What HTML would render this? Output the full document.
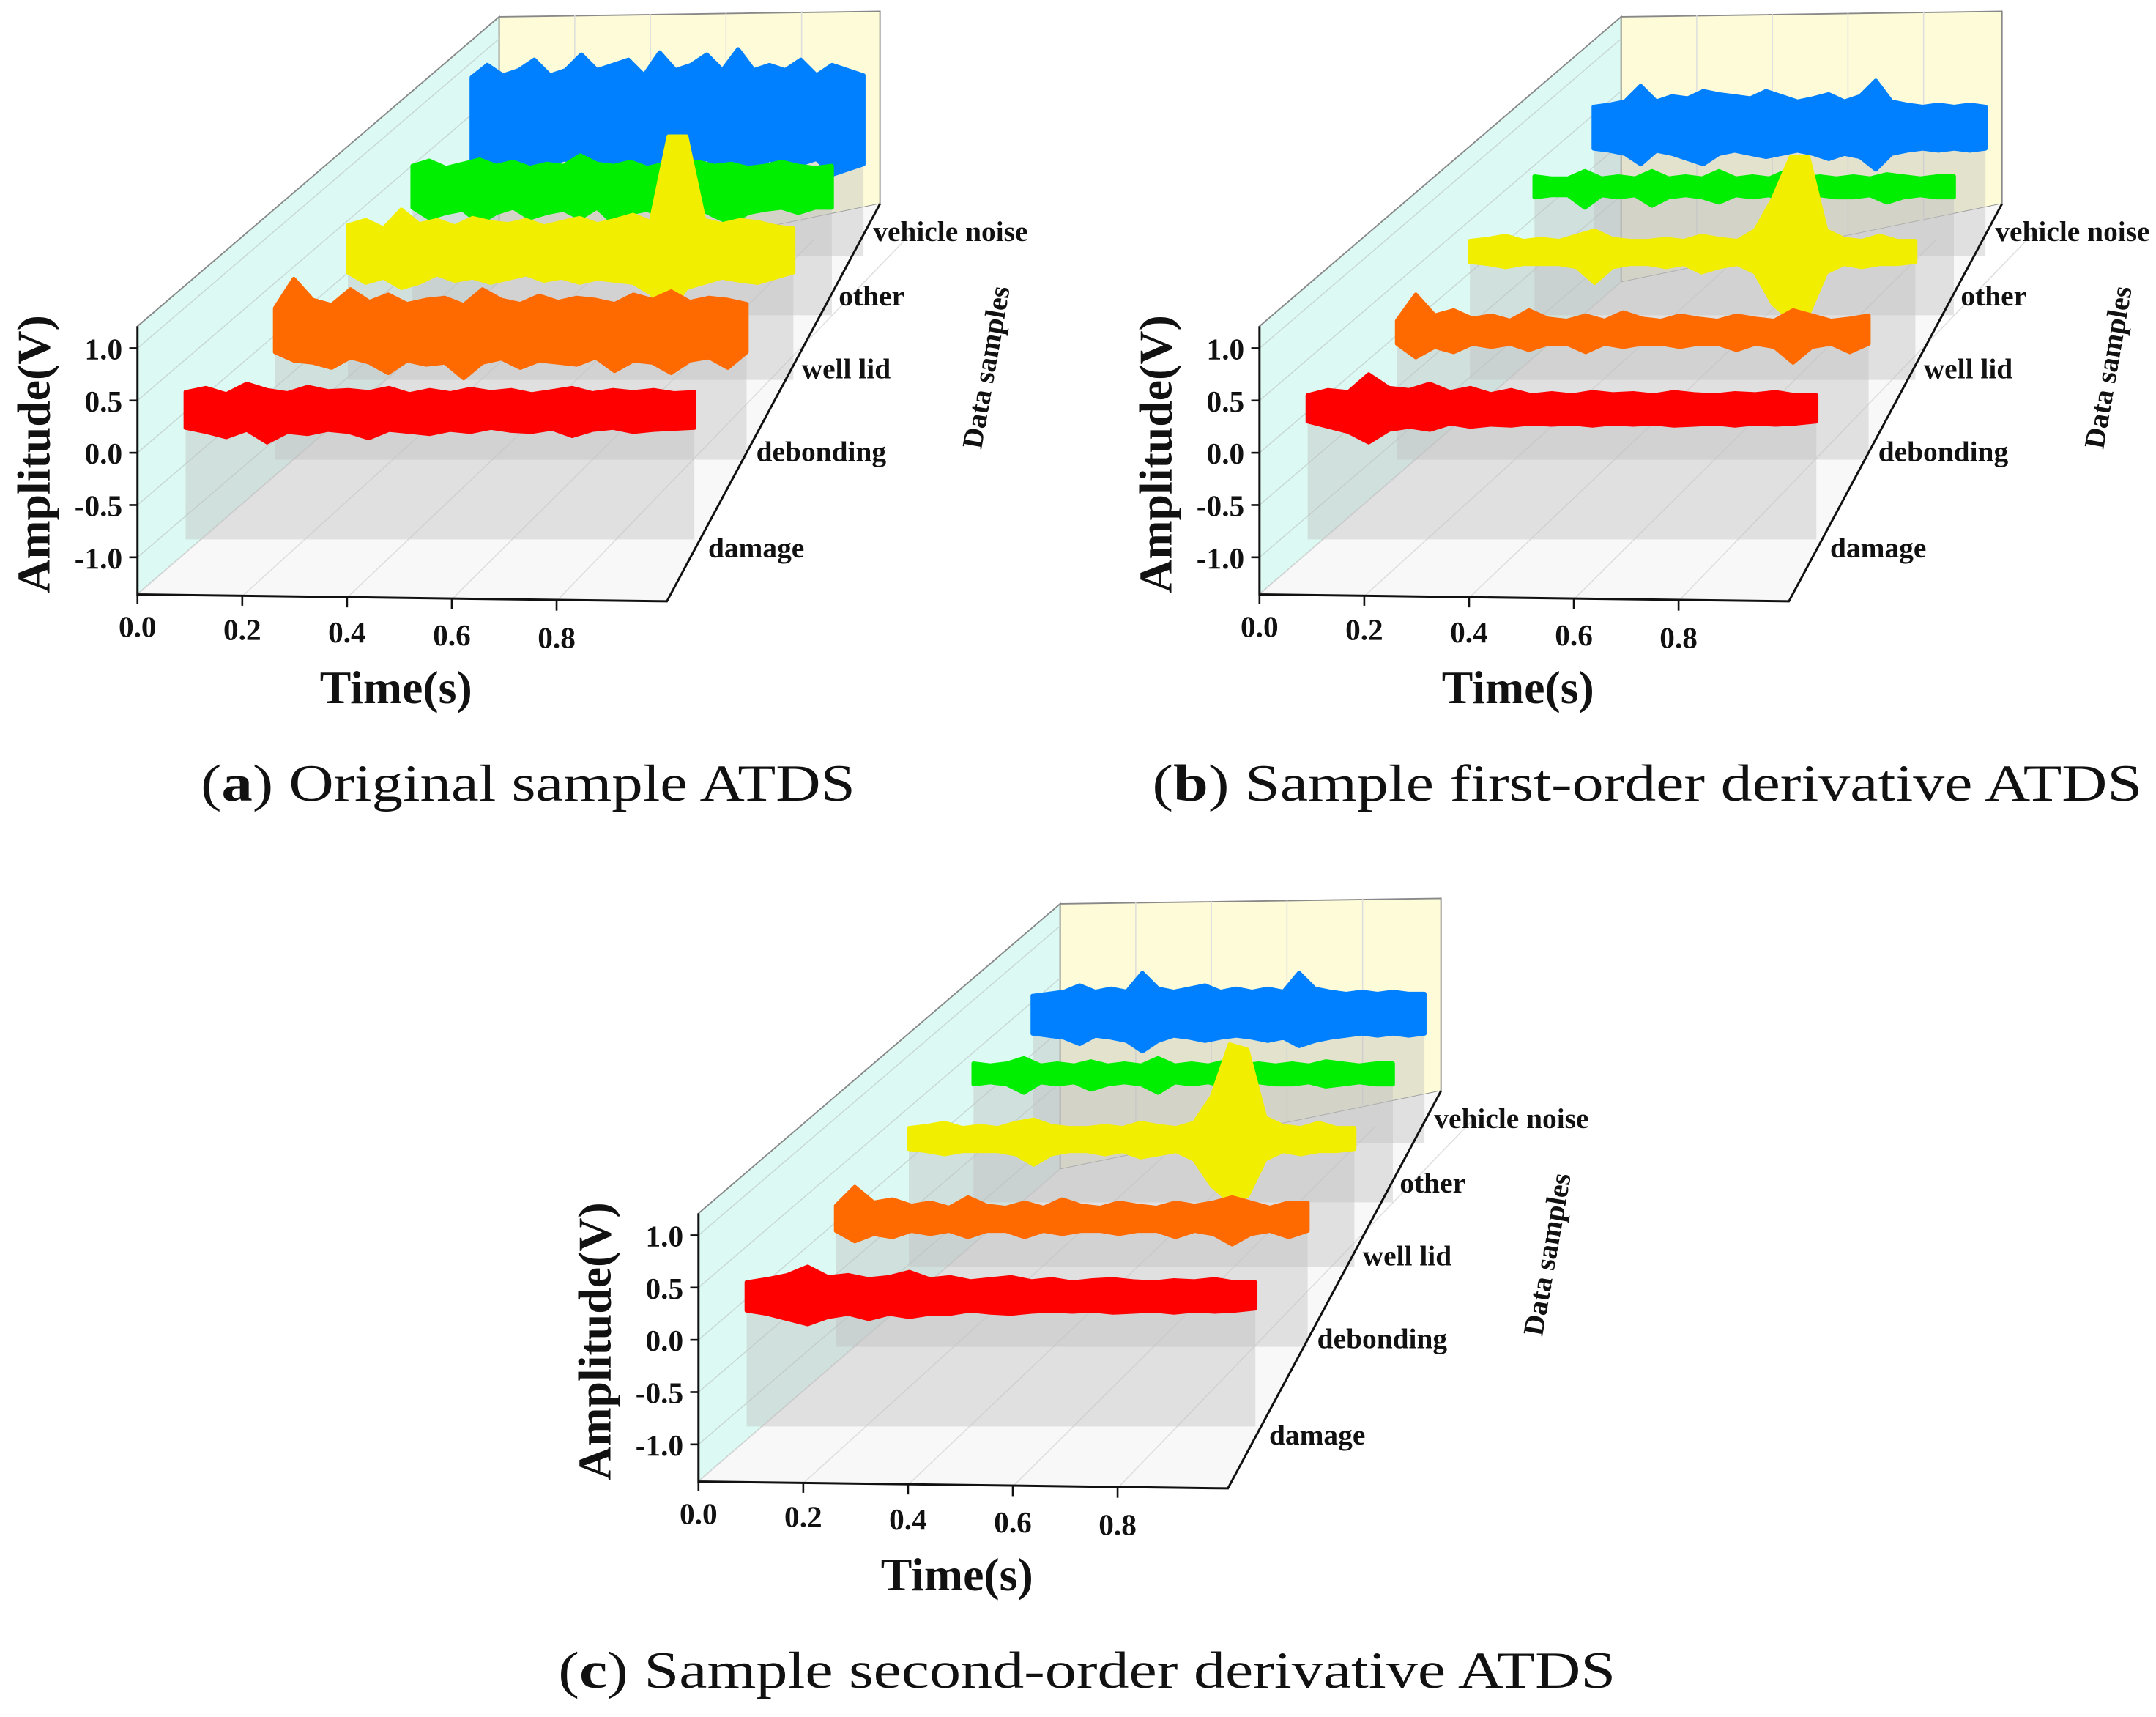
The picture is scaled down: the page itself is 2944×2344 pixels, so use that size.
<!DOCTYPE html>
<html><head><meta charset="utf-8"><title>ATDS waterfall plots</title>
<style>
html,body{margin:0;padding:0;background:#fff;}
svg{display:block;}
.tk{font-family:"Liberation Serif",serif;font-weight:bold;font-size:22px;fill:#111;}
.cat{font-family:"Liberation Serif",serif;font-weight:bold;font-size:21px;fill:#111;}
.ttl{font-family:"Liberation Serif",serif;font-weight:bold;font-size:34px;fill:#111;}
.cap{font-family:"Liberation Serif",serif;font-size:38px;fill:#111;}
</style></head>
<body>
<svg id="fig" xmlns="http://www.w3.org/2000/svg" width="2944" height="2344" viewBox="0 0 1568 1248">
<rect width="1568" height="1248" fill="#fff"/>
<text class="cap" x="146" y="582" textLength="476" lengthAdjust="spacingAndGlyphs">(<tspan font-weight="bold">a</tspan>) Original sample ATDS</text>
<text class="cap" x="838" y="582" textLength="720" lengthAdjust="spacingAndGlyphs">(<tspan font-weight="bold">b</tspan>) Sample first-order derivative ATDS</text>
<text class="cap" x="406" y="1227" textLength="769" lengthAdjust="spacingAndGlyphs">(<tspan font-weight="bold">c</tspan>) Sample second-order derivative ATDS</text>
</svg>
<script>
// ---- data ----
const timeTicks=[0.0,0.2,0.4,0.6,0.8];
const ampTicks=[1.0,0.5,0.0,-0.5,-1.0];
const categories=['damage','debonding','well lid','other','vehicle noise'];
const seriesColors=['#ff0000','#ff6a00','#f2ee00','#00ee00','#0080ff'];

// panel a envelopes (volts)
const aRedUp=[.58,.62,.56,.66,.6,.57,.63,.59,.6,.58,.62,.56,.6,.57,.61,.58,.6,.56,.59,.62,.57,.6,.58,.6,.57,.58];
const aRedLo=[.24,.2,.15,.22,.1,.2,.18,.22,.2,.14,.22,.2,.18,.22,.2,.24,.21,.2,.23,.16,.22,.24,.2,.22,.23,.24];
const aOrgUp=[.62,.9,.7,.65,.8,.68,.75,.66,.7,.72,.65,.8,.7,.66,.74,.68,.72,.7,.66,.75,.7,.78,.68,.72,.7,.66];
const aOrgLo=[.2,.12,.1,.05,.15,.1,.0,.12,.08,.1,-.05,.1,.14,.05,.12,.1,.08,.15,.02,.12,.1,.0,.12,.15,.05,.2];
const aYelUp=[.65,.7,.62,.8,.66,.7,.64,.72,.68,.66,.7,.64,.68,.72,.66,.7,.75,.68,1.5,1.5,.7,.66,.7,.68,.64,.62];
const aYelLo=[.2,.1,.15,.05,.1,.18,.12,.15,.1,.14,.18,.12,.15,.1,.14,.12,.1,0,-.2,.05,.1,.15,.12,.1,.15,.2];
const aGrnUp=[.6,.65,.58,.62,.66,.6,.64,.58,.62,.6,.7,.62,.6,.64,.58,.62,.6,.64,.6,.62,.58,.6,.64,.6,.58,.6];
const aGrnLo=[.2,.1,.15,.18,.05,.15,.2,.1,.15,.18,.1,.2,.05,.15,.18,.1,.15,.2,.12,.05,.15,.18,.2,.15,.2,.2];
const aBluUp=[.88,1.0,.9,.95,1.05,.9,.95,1.1,.95,1.0,1.05,.9,1.12,.95,1.0,1.1,.95,1.15,.95,1.0,.95,1.05,.9,1.0,.95,.9];
const aBluLo=[.0,.05,-.05,.1,.0,.05,.1,-.05,.05,.0,.1,.05,-.05,.0,.05,.1,.0,.05,-.05,.1,.0,.05,.1,-.05,.0,.05];
// panel b
const bRedUp=[.55,.6,.58,.75,.62,.6,.66,.58,.62,.56,.6,.55,.57,.55,.58,.56,.57,.55,.58,.56,.55,.57,.56,.58,.55,.55];
const bRedLo=[.3,.25,.2,.1,.22,.25,.22,.28,.25,.27,.26,.28,.27,.28,.26,.28,.27,.28,.26,.27,.28,.26,.28,.27,.28,.3];
const bOrgUp=[.5,.75,.55,.6,.52,.55,.5,.6,.52,.5,.55,.5,.58,.52,.5,.55,.52,.5,.55,.52,.5,.6,.55,.5,.52,.55];
const bOrgLo=[.28,.15,.25,.2,.28,.25,.28,.22,.28,.28,.2,.28,.25,.28,.28,.25,.28,.28,.22,.28,.25,.1,.25,.28,.2,.28];
const bYelUp=[.5,.52,.55,.5,.52,.5,.55,.6,.52,.5,.5,.52,.5,.55,.52,.5,.6,.9,1.3,1.3,.6,.52,.5,.55,.5,.5];
const bYelLo=[.3,.28,.25,.28,.28,.28,.25,.1,.25,.28,.28,.25,.28,.2,.25,.28,.2,-.1,-.25,-.2,.2,.28,.25,.28,.28,.3];
const bGrnUp=[.5,.48,.48,.55,.48,.5,.48,.55,.48,.5,.48,.55,.48,.5,.48,.55,.48,.5,.48,.5,.48,.52,.5,.48,.5,.5];
const bGrnLo=[.3,.32,.32,.2,.32,.3,.32,.22,.3,.32,.3,.25,.32,.3,.32,.25,.3,.32,.3,.3,.32,.25,.3,.32,.3,.3];
const bBluUp=[.6,.62,.65,.8,.65,.7,.68,.75,.72,.7,.68,.75,.7,.65,.68,.72,.65,.7,.85,.65,.62,.6,.62,.6,.62,.6];
const bBluLo=[.2,.18,.15,.05,.18,.15,.1,.05,.15,.18,.15,.12,.15,.18,.15,.1,.15,.12,0,.15,.18,.2,.18,.2,.18,.2];
// panel c
const cRedUp=[.55,.58,.62,.7,.6,.62,.58,.6,.65,.58,.6,.56,.58,.6,.56,.58,.55,.57,.58,.56,.55,.57,.56,.58,.55,.55];
const cRedLo=[.28,.25,.2,.15,.22,.25,.2,.25,.22,.25,.25,.28,.26,.25,.27,.28,.27,.28,.26,.27,.28,.26,.28,.27,.28,.3];
const cOrgUp=[.52,.7,.55,.58,.52,.55,.5,.6,.52,.5,.55,.5,.58,.52,.5,.55,.52,.5,.55,.52,.55,.6,.55,.5,.55,.55];
const cOrgLo=[.28,.18,.25,.22,.28,.25,.28,.22,.28,.28,.22,.28,.25,.28,.28,.25,.28,.28,.22,.28,.25,.15,.25,.28,.22,.28];
const cYelUp=[.5,.52,.55,.5,.52,.5,.55,.58,.52,.5,.5,.52,.5,.55,.52,.5,.55,.8,1.3,1.25,.6,.52,.5,.55,.5,.5];
const cYelLo=[.3,.28,.25,.28,.28,.28,.25,.15,.25,.28,.28,.25,.28,.22,.25,.28,.2,-.05,-.2,-.15,.2,.28,.25,.28,.28,.3];
const cGrnUp=[.5,.48,.5,.55,.48,.5,.48,.52,.48,.5,.48,.55,.48,.5,.48,.52,.48,.5,.48,.5,.48,.52,.5,.48,.5,.5];
const cGrnLo=[.3,.32,.3,.22,.32,.3,.32,.25,.3,.32,.3,.22,.32,.3,.32,.28,.3,.32,.3,.3,.32,.28,.3,.32,.3,.3];
const cBluUp=[.58,.6,.62,.68,.62,.65,.62,.8,.65,.62,.65,.68,.62,.65,.62,.65,.62,.8,.65,.62,.6,.62,.6,.62,.6,.6];
const cBluLo=[.22,.2,.18,.12,.2,.18,.15,.05,.15,.2,.18,.15,.18,.2,.18,.15,.18,.1,.15,.18,.2,.22,.2,.22,.2,.22];

const panelA=[[aRedUp,aRedLo],[aOrgUp,aOrgLo],[aYelUp,aYelLo],[aGrnUp,aGrnLo],[aBluUp,aBluLo]];
const panelB=[[bRedUp,bRedLo],[bOrgUp,bOrgLo],[bYelUp,bYelLo],[bGrnUp,bGrnLo],[bBluUp,bBluLo]];
const panelC=[[cRedUp,cRedLo],[cOrgUp,cOrgLo],[cYelUp,cYelLo],[cGrnUp,cGrnLo],[cBluUp,cBluLo]];

// ---- layout ----
const NS='http://www.w3.org/2000/svg';
const svg=document.getElementById('fig');
const sliceXs=[135,200,253,300,343], sliceXe=[505,543,577,605,628], sliceY0=[329,271,213,166,123];
const PX_PER_V=76;
const catPos=[[515,405],[550,335],[583,275],[610,222],[635,175]];
function mk(tag,attrs,parent){const e=document.createElementNS(NS,tag);for(const k in attrs)e.setAttribute(k,attrs[k]);parent.appendChild(e);return e;}
function xTime(t){return 100+t*381;}
function yAmp(v){return 329-v*PX_PER_V;}

function drawPanel(id,ox,oy,data){
  const g=mk('g',{transform:`translate(${ox},${oy})`},svg);
  
  
  const back=mk('polygon',{points:'363,12 640,8 640,148 363,205',fill:'#fdfbd8',stroke:'#888','stroke-width':1},g);
  
  
  const side=mk('polygon',{points:'100,237 363,12 363,205 100,432',fill:'#dcfaf3',stroke:'#888','stroke-width':1},g);
  
  
  const floor=mk('polygon',{points:'100,432 363,205 640,148 485,437',fill:'#f8f8f8'},g);
  
  
  ampTicks.forEach(v=>{const l=mk('line',{x1:100,y1:yAmp(v),x2:363,y2:yAmp(v)-225,stroke:'#c8d8d4','stroke-width':0.8},g);
    
    });
  for(let i=1;i<5;i++){const x=363+i*55;const l=mk('line',{x1:x,y1:12-i,x2:x,y2:205-i*11,stroke:'#ddd','stroke-width':0.8},g);
    
    }
  timeTicks.forEach(t=>{const x=xTime(t);const l=mk('line',{x1:x,y1:432+t*6,x2:x+263,y2:205+t*6-57*t,stroke:'#ddd','stroke-width':0.8},g);
    
    });
  for(let s=4;s>=0;s--){
    const xs=sliceXs[s],xe=sliceXe[s],y0=sliceY0[s];
    const up=data[s][0],lo=data[s][1];
    const n=up.length;
    const pl=mk('rect',{x:xs,y:y0-30,width:xe-xs,height:93,fill:'rgba(190,190,190,0.42)'},g);
    
    
    const px=i=>xs+(xe-xs)*i/(n-1);
    let pts=[];
    for(let i=0;i<n;i++)pts.push(px(i).toFixed(1)+','+(y0-up[i]*PX_PER_V).toFixed(1));
    for(let i=n-1;i>=0;i--)pts.push(px(i).toFixed(1)+','+(y0-lo[i]*PX_PER_V).toFixed(1));
    const tr=mk('polygon',{points:pts.join(' '),fill:seriesColors[s],stroke:seriesColors[s],'stroke-width':3,'stroke-linejoin':'round'},g);
    
    
  }
  const ax=mk('polyline',{points:'100,237 100,432 485,437 640,148',fill:'none',stroke:'#111','stroke-width':1.6},g);
  
  
  ampTicks.forEach(v=>{
    const y=yAmp(v);
    const tk=mk('line',{x1:94,y1:y,x2:100,y2:y,stroke:'#111','stroke-width':1.4},g);
    
    
    const t=mk('text',{x:89,y:y+8,'text-anchor':'end',class:'tk'},g);
    t.textContent=v.toFixed(1);
    
    
  });
  timeTicks.forEach(v=>{
    const x=xTime(v),yb=432+v*6;
    const tk=mk('line',{x1:x,y1:yb,x2:x,y2:yb+7,stroke:'#111','stroke-width':1.4},g);
    
    
    const t=mk('text',{x:x,y:463+v*10,'text-anchor':'middle',class:'tk'},g);
    t.textContent=v.toFixed(1);
    
    
  });
  categories.forEach((c,i)=>{
    const t=mk('text',{x:catPos[i][0],y:catPos[i][1],class:'cat','font-size':i==4?18:21},g);
    t.textContent=c;
    
    
  });
  const yt=mk('text',{x:0,y:0,class:'ttl','text-anchor':'middle',transform:'translate(36,330) rotate(-90)'},g);
  yt.textContent='Amplitude(V)';
  
  
  const xt=mk('text',{x:288,y:511,class:'ttl','text-anchor':'middle'},g);
  xt.textContent='Time(s)';
  
  
  const zt=mk('text',{x:0,y:0,'text-anchor':'middle',class:'cat','font-size':26,transform:'translate(724,268) rotate(-80)'},g);
  zt.textContent='Data samples';
  
  
}
drawPanel('a',0,0,panelA);
drawPanel('b',816,0,panelB);
drawPanel('c',408,645,panelC);
</script>
</body></html>
